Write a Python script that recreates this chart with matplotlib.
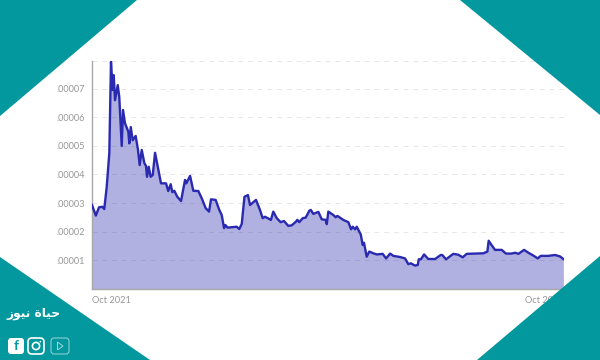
import matplotlib
matplotlib.use('Agg')
import numpy as np
import matplotlib.pyplot as plt
from matplotlib.patches import Polygon, FancyBboxPatch, Circle

#Days since Oct 2021
days = [0, 3, 5.4, 8, 9.5, 11.4, 13.4, 14.7, 16, 16.8, 17.8, 19.9, 21.1, 23, 24, 25.5, 28.1, 28.9, 30, 31.5,
        33.8, 35.6, 36.9, 38.5, 40.5, 41.8, 42.6, 43.9, 45.4, 47, 48.8, 51.9, 53.4, 57.3, 59, 60.9, 62.2, 63.7,
        66, 68.9, 72, 73, 75.9, 78.4, 82.3, 84.9, 88, 90.6, 92.1, 95.7, 98.5, 100.4, 102.2, 103.2, 105, 109.4,
        112, 114, 115.9, 118, 120.7, 122.3, 126.9, 130, 132.1, 133.9, 138.5, 140.3, 143, 146, 148.6, 151.9,
        154.6, 157.9, 158.9, 160.4, 163.1, 165.4, 168.2, 169.3, 171.3, 175.2, 177.8, 180.9, 181.7, 182.9,
        186.8, 188.6, 189.9, 194.5, 198.4, 200.5, 201.8, 203.6, 204.9, 208, 209.5, 210.5, 212.6, 214.6, 217.7,
        220.4, 225, 227.6, 230.7, 233.2, 238.4, 242.3, 244.8, 246.7, 250, 252.1, 252.9, 254.6, 257, 260.3,
        265.5, 269.9, 271.1, 274, 279.6, 283.5, 286.9, 290, 302.9, 306, 307, 308.6, 311.9, 317.1, 320.4,
        324.9, 327.4, 330, 334.4, 337.7, 341.6, 345, 347.3, 353.2, 358.4, 362.2, 364.8]
#Price in units of 0.00001
price = [2.93, 2.56, 2.85, 2.87, 2.79, 3.57, 4.75, 7.95, 6.96, 7.48, 6.6, 7.13, 6.72, 5.0, 6.26, 5.8, 5.5, 5.09, 5.66, 5.2,
         5.35, 4.86, 4.33, 4.86, 4.4, 4.3, 3.92, 4.27, 3.92, 3.98, 4.76, 4.04, 3.69, 3.69, 3.42, 3.66, 3.38, 3.43,
         3.22, 3.07, 3.81, 3.69, 3.95, 3.43, 3.42, 3.17, 2.82, 2.7, 3.13, 3.11, 2.76, 2.58, 2.12, 2.23, 2.14, 2.16,
         2.17, 2.09, 2.27, 3.22, 3.28, 2.93, 3.11, 2.76, 2.47, 2.52, 2.41, 2.7, 2.47, 2.33, 2.37, 2.2,
         2.22, 2.35, 2.41, 2.33, 2.47, 2.49, 2.73, 2.76, 2.62, 2.69, 2.43, 2.41, 2.26, 2.7,
         2.58, 2.5, 2.55, 2.41, 2.33, 2.08, 2.17, 2.08, 2.17, 1.9, 1.53, 1.61, 1.12, 1.3, 1.24,
         1.2, 1.22, 1.06, 1.23, 1.15, 1.11, 1.06, 0.86, 0.89, 0.81, 0.83, 1.03, 1.03, 1.2, 1.04,
         1.04, 1.18, 1.18, 1.03, 1.22, 1.19, 1.1, 1.22, 1.24, 1.3, 1.68, 1.57, 1.36, 1.36, 1.23,
         1.23, 1.26, 1.22, 1.36, 1.26, 1.16, 1.06, 1.15, 1.15, 1.18, 1.13, 1.04]
y_ticks = [1, 2, 3, 4, 5, 6, 7]
y_labels = ['.00001', '.00002', '.00003', '.00004', '.00005', '.00006', '.00007']
x_ticks = [0, 335]
x_labels = ['Oct 2021', 'Oct 2022']
brand = '\uFEAF\uFEEE\uFEF4\uFEE7 \uFE93\uFE8E\uFEF4\uFEA3'  #hayat news, shaped by hand

teal = '#03989E'
gray = '#969696'

plt.rcParams['font.family'] = ['Lato', 'DejaVu Sans']
fig = plt.figure(figsize=(6, 3.6), dpi=100)

#Chart area
ax = fig.add_axes([92/600, (360-288.7)/360, 472/600, 227.7/360])
ax.fill_between(days, price, color='#2A2AB0', alpha=0.37, lw=0, zorder=2)
ax.plot(days, price, color='#2A2AB0', lw=1.7, zorder=3, solid_joinstyle='round')
ax.set_xlim(0, 365.3)
ax.set_ylim(0, 7.975)
for v in y_ticks + [7.975]:
    ax.axhline(v, color='#DCDCDC', lw=0.7, ls=(0, (5, 5)), alpha=0.7, zorder=1)
ax.set_yticks(y_ticks)
ax.set_yticklabels(y_labels, fontsize=6.6, color=gray)
ax.set_xticks(x_ticks)
ax.set_xticklabels(x_labels, fontsize=6.7, color=gray, ha='left')
ax.tick_params(length=0, pad=5)
ax.tick_params(axis='x', pad=5)
for s in ['top', 'right']:
    ax.spines[s].set_visible(False)
for s in ['left', 'bottom']:
    ax.spines[s].set_color('#A8A8A8')
    ax.spines[s].set_linewidth(1.0)

#Corner decoration, in pixels
deco = fig.add_axes([0, 0, 1, 1], zorder=5)
deco.set_xlim(0, 600)
deco.set_ylim(360, 0)
deco.axis('off')
deco.patch.set_alpha(0)
deco.add_patch(Polygon([(0, 0), (137, 0), (0, 116)], color=teal, lw=0))
deco.add_patch(Polygon([(460, 0), (600, 0), (600, 115)], color=teal, lw=0))
deco.add_patch(Polygon([(0, 257), (150, 360), (0, 360)], color=teal, lw=0))
deco.add_patch(Polygon([(600, 256), (600, 360), (477, 360)], color=teal, lw=0))

deco.text(34, 314, brand, color='white', fontsize=8.8, fontweight='bold', family='DejaVu Sans',
          ha='center', va='center')

#Social icons
deco.add_patch(FancyBboxPatch((10, 340), 12, 12, boxstyle='round,pad=2,rounding_size=3', fc='white', ec='none'))
deco.text(16, 346.5, 'f', color=teal, fontsize=10, fontweight='bold', ha='center', va='center')
deco.add_patch(FancyBboxPatch((30, 340), 12, 12, boxstyle='round,pad=2,rounding_size=4', fc='none', ec='white', lw=1.2))
deco.add_patch(Circle((36, 346), 3.6, fc='none', ec='white', lw=1.2))
deco.add_patch(Circle((40.3, 341.7), 0.8, fc='white', ec='none'))
deco.add_patch(FancyBboxPatch((53, 340), 14, 12, boxstyle='round,pad=2,rounding_size=3', fc='none', ec='#9FD6D8', lw=0.7))
deco.add_patch(Polygon([(57.5, 342), (57.5, 350), (63, 346)], fc='none', ec='#9FD6D8', lw=0.7))

plt.savefig('out.png', dpi=100)
